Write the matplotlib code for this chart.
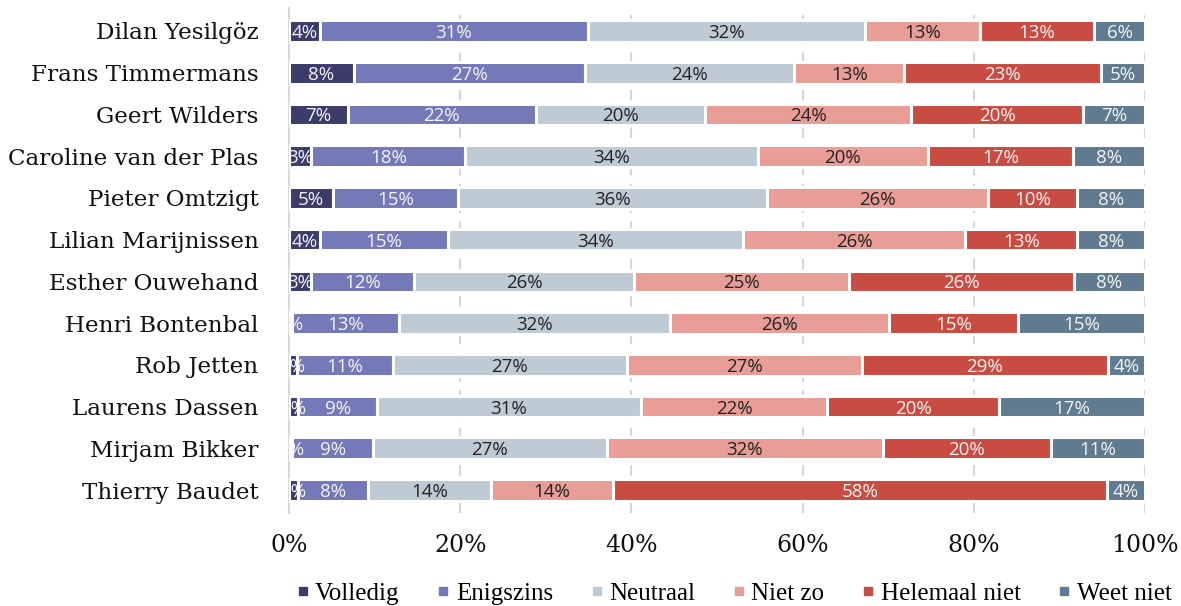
import numpy as np
import matplotlib.pyplot as plt
from matplotlib.lines import Line2D

# creating the dataset
politici = ['Dilan Yesilgöz', 'Frans Timmermans', 'Geert Wilders',
            'Caroline van der Plas', 'Pieter Omtzigt', 'Lilian Marijnissen',
            'Esther Ouwehand', 'Henri Bontenbal', 'Rob Jetten',
            'Laurens Dassen', 'Mirjam Bikker', 'Thierry Baudet']
categorieen = ['Volledig', 'Enigszins', 'Neutraal', 'Niet zo', 'Helemaal niet', 'Weet niet']

volledig = [3.6, 7.6, 6.9, 2.6, 5.1, 3.6, 2.6, 0.3, 0.9, 1.1, 0.4, 1.1]
enigszins = [31.3, 27.0, 21.9, 18.0, 14.7, 15.0, 12.0, 12.6, 11.2, 9.2, 9.4, 8.1]
neutraal = [32.4, 24.4, 19.8, 34.2, 36.1, 34.4, 25.7, 31.6, 27.4, 30.8, 27.3, 14.4]
niet_zo = [13.4, 12.9, 24.1, 19.8, 25.8, 26.0, 25.1, 25.6, 27.4, 21.8, 32.3, 14.2]
helemaal_niet = [13.4, 23.0, 20.1, 17.0, 10.4, 13.1, 26.3, 15.1, 28.8, 20.0, 19.6, 57.8]
weet_niet = [5.9, 5.1, 7.2, 8.4, 7.9, 7.9, 8.3, 14.8, 4.3, 17.1, 11.0, 4.4]

kleuren = ['#3a3c6a', '#7479b8', '#bfcbd4', '#e99d97', '#c94c43', '#607b8f']
tekstkleur = ['#f4f4f4', '#f4f4f4', '#222222', '#222222', '#f4f4f4', '#f4f4f4']

reeksen = [volledig, enigszins, neutraal, niet_zo, helemaal_niet, weet_niet]

fig = plt.figure(figsize=(11.81, 6.06), dpi=100)
ax = fig.add_axes([0.2447, 0.1535, 0.7248, 0.8333])

y = np.arange(len(politici))
left = np.zeros(len(politici))
for reeks, kleur, tk in zip(reeksen, kleuren, tekstkleur):
    vals = np.array(reeks)
    ax.barh(y, vals, left=left, height=0.52, color=kleur,
            edgecolor='white', linewidth=2.2, zorder=3)
    for i in range(len(vals)):
        ax.text(left[i] + vals[i] / 2, y[i], f"{vals[i]:.0f}%",
                ha='center', va='center_baseline', color=tk, fontsize=13.5,
                family='Open Sans', zorder=4, clip_on=True)
    left = left + vals

ax.set_xlim(0, 100)
ax.set_ylim(len(politici) - 0.45, -0.55)
ax.set_yticks(y)
ax.set_yticklabels(politici, family='DejaVu Serif', fontsize=16.6, color='#111111')
ax.set_xticks([0, 20, 40, 60, 80, 100])
ax.set_xticklabels(['0%', '20%', '40%', '60%', '80%', '100%'],
                   family='DejaVu Serif', fontsize=17, color='#111111')
ax.tick_params(axis='both', length=0)
ax.tick_params(axis='x', pad=15)
ax.tick_params(axis='y', pad=22)

for s in ['top', 'right', 'bottom']:
    ax.spines[s].set_visible(False)
ax.spines['left'].set_color('#d9d9d9')
ax.spines['left'].set_linewidth(1.5)

for gx in [20, 40, 60, 80, 100]:
    ax.axvline(gx, color='#d6d6d6', linewidth=1.5, linestyle=(0, (5, 4)), zorder=1)

handles = [Line2D([], [], marker='s', linestyle='none', markersize=6,
                  markerfacecolor=k, markeredgecolor=k) for k in kleuren]
fig.legend(handles, categorieen, loc='center', bbox_to_anchor=(0.620, 0.02),
           ncol=6, frameon=False, handletextpad=0.1, columnspacing=1.35,
           handlelength=0.8, prop={'family': 'Liberation Serif', 'size': 18})

plt.savefig('out.png', dpi=100)
